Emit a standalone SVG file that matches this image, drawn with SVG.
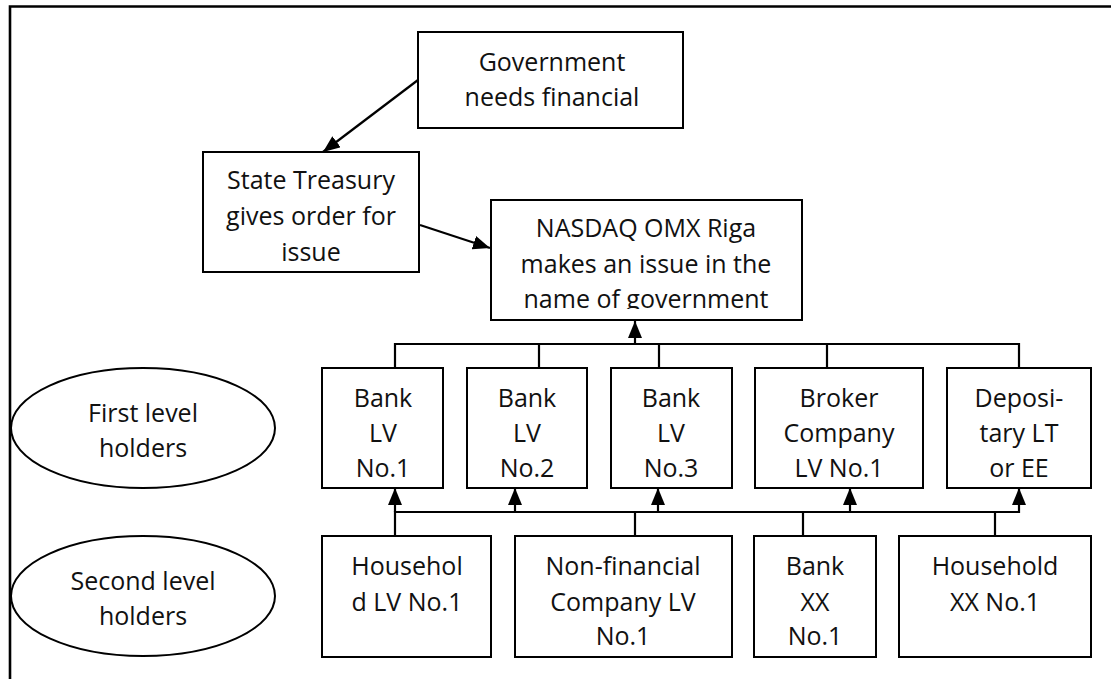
<svg xmlns="http://www.w3.org/2000/svg" width="1111" height="679" viewBox="0 0 1111 679">
  <style>
    .box { fill: #ffffff; stroke: #000000; stroke-width: 2; }
    .line { fill: none; stroke: #000000; stroke-width: 2.2; }
    .frame { fill: none; stroke: #000000; stroke-width: 2.6; }
    text { font-family: "Open Sans", "Liberation Sans", sans-serif; font-size: 25px; fill: #111111; text-anchor: middle; }
  </style>
  <defs>
    <marker id="arrow" markerUnits="userSpaceOnUse" markerWidth="18" markerHeight="15" refX="17" refY="7" orient="auto">
      <path d="M0,0 L17,7 L0,14 z" fill="#000000"/>
    </marker>
    <clipPath id="nasdaqClip">
      <rect x="491" y="200" width="311" height="109"/>
    </clipPath>
  </defs>

  <rect x="0" y="0" width="1111" height="679" fill="#ffffff"/>

  <!-- outer frame (top and left edges) -->
  <path class="frame" d="M10,679 L10,6.5 L1111,6.5"/>

  <!-- connectors -->
  <g id="connectors">
    <line class="line" x1="418" y1="80" x2="323" y2="152" marker-end="url(#arrow)"/>
    <line class="line" x1="420" y1="225" x2="490" y2="248" marker-end="url(#arrow)"/>

    <!-- first level bus to NASDAQ -->
    <line class="line" x1="635" y1="344" x2="635" y2="321" marker-end="url(#arrow)"/>
    <path class="line" d="M395,368 L395,344 L1019,344 L1019,368 M539,344 L539,368 M659,344 L659,368 M827,344 L827,368"/>

    <!-- second level bus to first level -->
    <path class="line" d="M395,536 L395,512 L1019,512 M635,512 L635,536 M803,512 L803,536 M995,512 L995,536"/>
    <line class="line" x1="395" y1="512" x2="395" y2="488" marker-end="url(#arrow)"/>
    <line class="line" x1="515" y1="512" x2="515" y2="488" marker-end="url(#arrow)"/>
    <line class="line" x1="658" y1="512" x2="658" y2="488" marker-end="url(#arrow)"/>
    <line class="line" x1="850" y1="512" x2="850" y2="488" marker-end="url(#arrow)"/>
    <line class="line" x1="1019" y1="513" x2="1019" y2="488" marker-end="url(#arrow)"/>
  </g>

  <g id="government">
    <rect class="box" x="418" y="32" width="265" height="96"/>
    <text x="552" y="71">Government</text>
    <text x="552" y="106">needs financial</text>
  </g>

  <g id="state-treasury">
    <rect class="box" x="203" y="152" width="216" height="120"/>
    <text x="311" y="189">State Treasury</text>
    <text x="311" y="225">gives order for</text>
    <text x="311" y="261">issue</text>
  </g>

  <g id="nasdaq">
    <rect class="box" x="491" y="200" width="311" height="120"/>
    <g clip-path="url(#nasdaqClip)">
      <text x="646" y="237">NASDAQ OMX Riga</text>
      <text x="646" y="273">makes an issue in the</text>
      <text x="646" y="308">name of government</text>
    </g>
  </g>

  <g id="first-level-label">
    <ellipse class="box" cx="143" cy="428" rx="132" ry="60"/>
    <text x="143" y="422">First level</text>
    <text x="143" y="457">holders</text>
  </g>

  <g id="second-level-label">
    <ellipse class="box" cx="143" cy="596" rx="132" ry="60"/>
    <text x="143" y="590">Second level</text>
    <text x="143" y="625">holders</text>
  </g>

  <g id="bank-lv-1">
    <rect class="box" x="322" y="368" width="121" height="120"/>
    <text x="383" y="407">Bank</text>
    <text x="383" y="442">LV</text>
    <text x="383" y="477">No.1</text>
  </g>

  <g id="bank-lv-2">
    <rect class="box" x="467" y="368" width="120" height="120"/>
    <text x="527" y="407">Bank</text>
    <text x="527" y="442">LV</text>
    <text x="527" y="477">No.2</text>
  </g>

  <g id="bank-lv-3">
    <rect class="box" x="611" y="368" width="121" height="120"/>
    <text x="671" y="407">Bank</text>
    <text x="671" y="442">LV</text>
    <text x="671" y="477">No.3</text>
  </g>

  <g id="broker-company">
    <rect class="box" x="755" y="368" width="168" height="120"/>
    <text x="839" y="407">Broker</text>
    <text x="839" y="442">Company</text>
    <text x="839" y="477">LV No.1</text>
  </g>

  <g id="depositary">
    <rect class="box" x="947" y="368" width="144" height="120"/>
    <text x="1019" y="407">Deposi-</text>
    <text x="1019" y="442">tary LT</text>
    <text x="1019" y="477">or EE</text>
  </g>

  <g id="household-lv">
    <rect class="box" x="322" y="536" width="169" height="121"/>
    <text x="407" y="575">Househol</text>
    <text x="407" y="611">d LV No.1</text>
  </g>

  <g id="non-financial-company">
    <rect class="box" x="515" y="536" width="217" height="121"/>
    <text x="623" y="575">Non-financial</text>
    <text x="623" y="611">Company LV</text>
    <text x="623" y="645">No.1</text>
  </g>

  <g id="bank-xx">
    <rect class="box" x="754" y="536" width="122" height="121"/>
    <text x="815" y="575">Bank</text>
    <text x="815" y="611">XX</text>
    <text x="815" y="645">No.1</text>
  </g>

  <g id="household-xx">
    <rect class="box" x="899" y="536" width="192" height="121"/>
    <text x="995" y="575">Household</text>
    <text x="995" y="611">XX No.1</text>
  </g>
</svg>
